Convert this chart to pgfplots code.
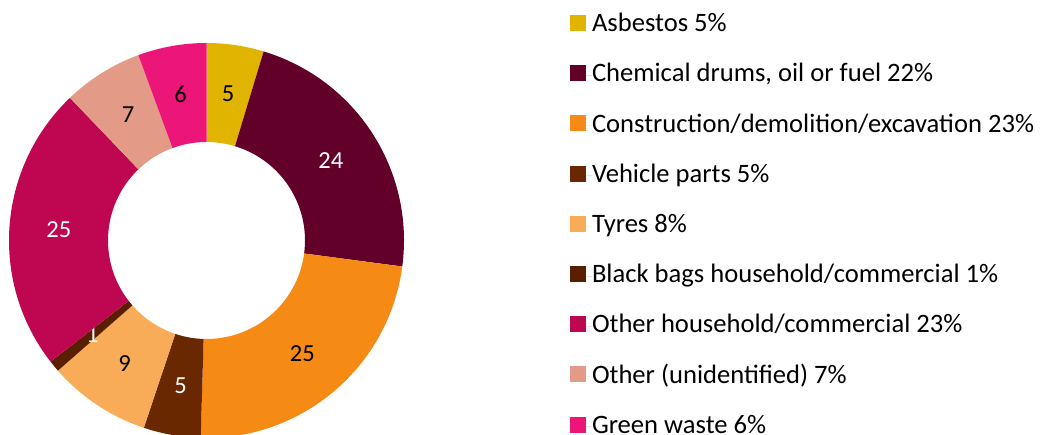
\documentclass[border=0pt]{standalone}
\usepackage{pgfplots}
\pgfplotsset{compat=1.18}
\usepackage{fontspec}
\setmainfont{Carlito}

\definecolor{asb}{HTML}{E0B400}
\definecolor{chem}{HTML}{62002A}
\definecolor{cons}{HTML}{F58A14}
\definecolor{veh}{HTML}{6A2800}
\definecolor{tyr}{HTML}{F8AC58}
\definecolor{blk}{HTML}{5A1E00}
\definecolor{oth}{HTML}{BE0651}
\definecolor{unid}{HTML}{E39A86}
\definecolor{grn}{HTML}{EC1578}

\newcommand\lblfont{\fontsize{24.5bp}{28bp}\selectfont}
\newcommand\legfont{\fontsize{26.6bp}{30bp}\selectfont}

% counts: 5,24,25,5,9,1,25,7,6
\pgfmathsetmacro\total{5+24+25+5+9+1+25+7+6}

% #1 cumulative count before wedge, #2 count, #3 fill, #4 label colour
\newcommand{\donutwedge}[4]{%
  \pgfmathsetmacro\wa{90-(#1/\total)*360}%
  \pgfmathsetmacro\wb{90-((#1+#2)/\total)*360}%
  \pgfmathsetmacro\wm{(\wa+\wb)/2}%
  \edef\tmp{\noexpand\fill[#3] ([shift={(\wa:197.5bp)}]axis cs:206.5,193.5)
     arc[start angle=\wa, end angle=\wb, radius=197.5bp]
     -- ([shift={(\wb:98.5bp)}]axis cs:206.5,193.5)
     arc[start angle=\wb, end angle=\wa, radius=98.5bp] -- cycle;
   \noexpand\node[text=#4, font=\noexpand\lblfont, inner sep=0pt]
     at ([shift={(\wm:148bp)}]axis cs:206.5,193.5) {#2};}%
  \tmp
}

\begin{document}
\begin{tikzpicture}
\begin{axis}[
  width=1040bp, height=434bp, scale only axis,
  xmin=0, xmax=1040, ymin=0, ymax=434,
  enlargelimits=false,
  hide axis,
  clip=true,
  legend image code/.code={%
    \path[#1] (0bp,-5.8bp) rectangle (16bp,10.2bp);
    \path (0bp,0bp) -- (22bp,0bp);},
  legend style={at={(axis cs:570,421.3)}, anchor=north west,
    draw=none, fill=none, inner sep=0pt, outer sep=0pt,
    font=\legfont, row sep=25.2bp,
    nodes={inner sep=0pt, text height=19bp, text depth=6bp},
    cells={anchor=west}},
]
\donutwedge{0}{5}{asb}{black}
\donutwedge{5}{24}{chem}{white}
\donutwedge{29}{25}{cons}{black}
\donutwedge{54}{5}{veh}{white}
\donutwedge{59}{9}{tyr}{black}
\donutwedge{68}{1}{blk}{white}
\donutwedge{69}{25}{oth}{white}
\donutwedge{94}{7}{unid}{black}
\donutwedge{101}{6}{grn}{black}

\addlegendimage{fill=asb, draw=none}
\addlegendentry{Asbestos 5\%}
\addlegendimage{fill=chem, draw=none}
\addlegendentry{Chemical drums, oil or fuel 22\%}
\addlegendimage{fill=cons, draw=none}
\addlegendentry{Construction/demolition/excavation 23\%}
\addlegendimage{fill=veh, draw=none}
\addlegendentry{Vehicle parts 5\%}
\addlegendimage{fill=tyr, draw=none}
\addlegendentry{Tyres 8\%}
\addlegendimage{fill=blk, draw=none}
\addlegendentry{Black bags household/commercial 1\%}
\addlegendimage{fill=oth, draw=none}
\addlegendentry{Other household/commercial 23\%}
\addlegendimage{fill=unid, draw=none}
\addlegendentry{Other (unidentified) 7\%}
\addlegendimage{fill=grn, draw=none}
\addlegendentry{Green waste 6\%}
\end{axis}
\pgfresetboundingbox
\path (current axis.south west) rectangle (current axis.north east);
\end{tikzpicture}
\end{document}
